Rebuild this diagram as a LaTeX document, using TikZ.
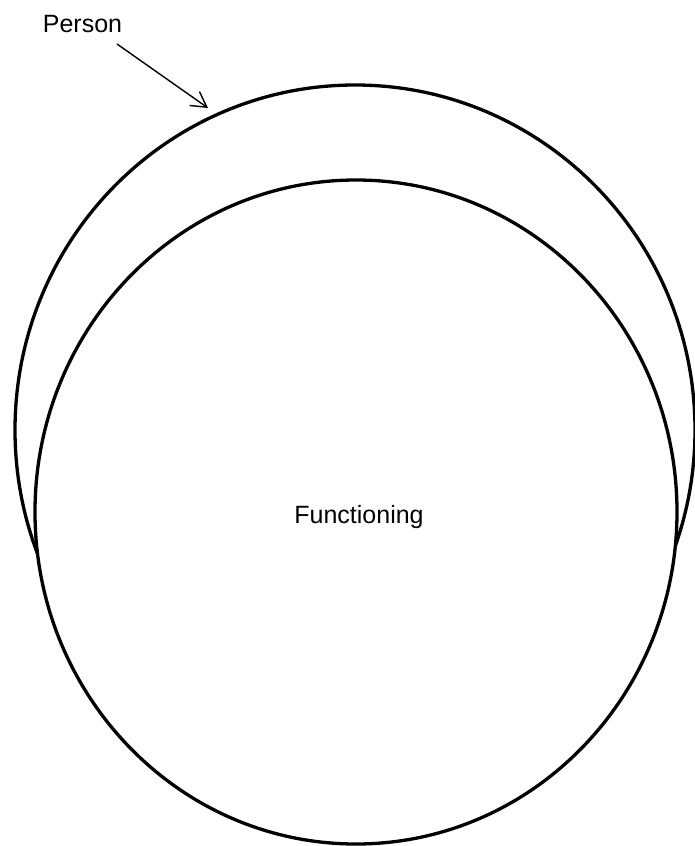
\documentclass[tikz,border=0pt]{standalone}
\usepackage{fontspec}
\setmainfont{Liberation Sans}
\usetikzlibrary{arrows.meta,shapes.geometric}
\begin{document}
\begin{tikzpicture}[x=1pt,y=-1pt,
  ring/.style={draw=black,line width=3.3pt,fill=white,ellipse,inner sep=0pt},
  lbl/.style={font=\fontsize{25}{29}\selectfont,inner sep=0pt},
  pointer/.style={line width=1.4pt,-{Straight Barb[length=15pt,width=17pt,line width=1.4pt]}}]
\useasboundingbox (0,0) rectangle (695,846);
\node[ring,minimum width=680pt,minimum height=690pt] (person) at (355,430) {};
\node[ring,minimum width=642pt,minimum height=664pt] (func) at (356,512) {};
\node[lbl] (funclbl) at (359,517) {Functioning};
\node[lbl] (personlbl) at (82.5,24.5) {Person};
\coordinate (start) at (117,44);
\coordinate (tip) at (208,108);
\draw[pointer] (start) -- (tip);
\end{tikzpicture}
\end{document}
